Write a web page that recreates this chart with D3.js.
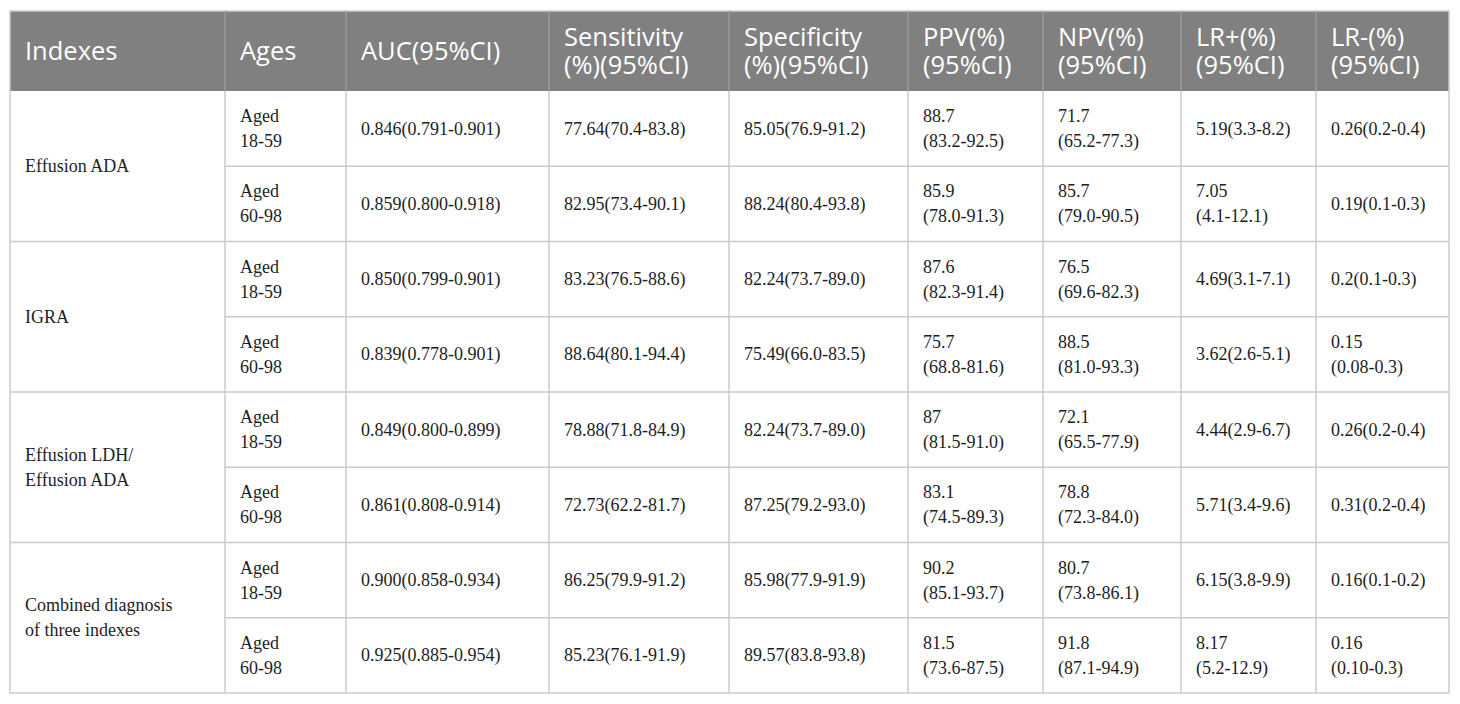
<!DOCTYPE html>
<html>
<head>
<meta charset="utf-8">
<script src="https://cdn.jsdelivr.net/npm/d3@7"></script>
<style>
  html, body { margin: 0; padding: 0; background: #fff; }
</style>
</head>
<body>
<svg id="tbl" width="1460" height="704"></svg>
<script>
// table content
const headers = ["Indexes", "Ages", "AUC(95%CI)", "Sensitivity\n(%)(95%CI)", "Specificity\n(%)(95%CI)",
                 "PPV(%)\n(95%CI)", "NPV(%)\n(95%CI)", "LR+(%)\n(95%CI)", "LR-(%)\n(95%CI)"];
const indexes = ["Effusion ADA", "IGRA", "Effusion LDH/\nEffusion ADA", "Combined diagnosis\nof three indexes"];
const ages = ["Aged\n18-59", "Aged\n60-98"];
const auc = ["0.846(0.791-0.901)", "0.859(0.800-0.918)", "0.850(0.799-0.901)", "0.839(0.778-0.901)",
             "0.849(0.800-0.899)", "0.861(0.808-0.914)", "0.900(0.858-0.934)", "0.925(0.885-0.954)"];
const sens = ["77.64(70.4-83.8)", "82.95(73.4-90.1)", "83.23(76.5-88.6)", "88.64(80.1-94.4)",
              "78.88(71.8-84.9)", "72.73(62.2-81.7)", "86.25(79.9-91.2)", "85.23(76.1-91.9)"];
const spec = ["85.05(76.9-91.2)", "88.24(80.4-93.8)", "82.24(73.7-89.0)", "75.49(66.0-83.5)",
              "82.24(73.7-89.0)", "87.25(79.2-93.0)", "85.98(77.9-91.9)", "89.57(83.8-93.8)"];
const ppv = ["88.7\n(83.2-92.5)", "85.9\n(78.0-91.3)", "87.6\n(82.3-91.4)", "75.7\n(68.8-81.6)",
             "87\n(81.5-91.0)", "83.1\n(74.5-89.3)", "90.2\n(85.1-93.7)", "81.5\n(73.6-87.5)"];
const npv = ["71.7\n(65.2-77.3)", "85.7\n(79.0-90.5)", "76.5\n(69.6-82.3)", "88.5\n(81.0-93.3)",
             "72.1\n(65.5-77.9)", "78.8\n(72.3-84.0)", "80.7\n(73.8-86.1)", "91.8\n(87.1-94.9)"];
const lrPos = ["5.19(3.3-8.2)", "7.05\n(4.1-12.1)", "4.69(3.1-7.1)", "3.62(2.6-5.1)",
               "4.44(2.9-6.7)", "5.71(3.4-9.6)", "6.15(3.8-9.9)", "8.17\n(5.2-12.9)"];
const lrNeg = ["0.26(0.2-0.4)", "0.19(0.1-0.3)", "0.2(0.1-0.3)", "0.15\n(0.08-0.3)",
               "0.26(0.2-0.4)", "0.31(0.2-0.4)", "0.16(0.1-0.2)", "0.16\n(0.10-0.3)"];

// layout
const colW = [215, 121, 203, 180, 179, 135, 138, 135, 133];
const tLeft = 10, tTop = 11, headH = 80, bodyBottom = 693;
const padX = 15;
const gridCol = "#cbcbcb", headBg = "#808080", txtCol = "#1e1e1e";

const colEdges = d3.cumsum([tLeft].concat(colW));   // left edge of each column + right edge
const colEdge = i => colEdges[i];
const nRows = ages.length * indexes.length;
const y = d3.scaleBand().domain(d3.range(nRows)).range([tTop + headH, bodyBottom]);

const svg = d3.select("#tbl");

function multiText(g, str, x, cy, lh) {
  const lines = str.split("\n");
  const t = g.append("text").attr("x", x).attr("y", cy);
  lines.forEach((ln, i) => {
    t.append("tspan").attr("x", x)
      .attr("dy", i === 0 ? -(lines.length - 1) / 2 * lh : lh)
      .text(ln);
  });
  return t;
}

// header
const tableRight = colEdge(colW.length);
svg.append("rect").attr("x", tLeft).attr("y", tTop)
  .attr("width", tableRight - tLeft).attr("height", headH).attr("fill", headBg);

const hg = svg.append("g")
  .attr("font-family", "'Open Sans', 'Noto Sans', sans-serif")
  .attr("font-size", 25.5).attr("fill", "#fff")
  .attr("dominant-baseline", "central");
headers.forEach((h, i) => multiText(hg, h, colEdge(i) + padX, tTop + headH / 2 - 1.5, 28));

// body cells
const cols = [auc, sens, spec, ppv, npv, lrPos, lrNeg];
const bg = svg.append("g")
  .attr("font-family", "'Liberation Serif', 'Times New Roman', serif")
  .attr("font-size", 18).attr("fill", txtCol)
  .attr("dominant-baseline", "central");

indexes.forEach((name, k) => {
  const r0 = k * ages.length;
  const cy = y(r0) + y.bandwidth() * ages.length / 2;
  multiText(bg, name, colEdge(0) + padX, cy, 25);
});
d3.range(nRows).forEach(r => {
  const cy = y(r) + y.bandwidth() / 2;
  multiText(bg, ages[r % ages.length], colEdge(1) + padX, cy, 25);
  cols.forEach((c, j) => multiText(bg, c[r], colEdge(j + 2) + padX, cy, 25));
});

// grid lines
const grid = svg.append("g").attr("stroke", gridCol).attr("stroke-width", 1.5).attr("fill", "none");
// horizontal lines between rows (first column only at index group boundaries)
d3.range(1, nRows).forEach(r => {
  const x0 = (r % ages.length === 0) ? tLeft : colEdge(1);
  grid.append("line").attr("x1", x0).attr("x2", tableRight).attr("y1", y(r)).attr("y2", y(r));
});
// vertical lines
d3.range(1, colW.length).forEach(i => {
  grid.append("line").attr("x1", colEdge(i)).attr("x2", colEdge(i)).attr("y1", tTop + headH).attr("y2", bodyBottom);
});
// outer border
grid.append("rect").attr("x", tLeft).attr("y", tTop)
  .attr("width", tableRight - tLeft).attr("height", bodyBottom - tTop);
// header separators, slightly lighter on grey
svg.append("g").attr("stroke", "#9a9a9a").attr("stroke-width", 1.5)
  .selectAll("line").data(d3.range(1, colW.length)).join("line")
  .attr("x1", i => colEdge(i)).attr("x2", i => colEdge(i)).attr("y1", tTop).attr("y2", tTop + headH);
</script>
</body>
</html>
